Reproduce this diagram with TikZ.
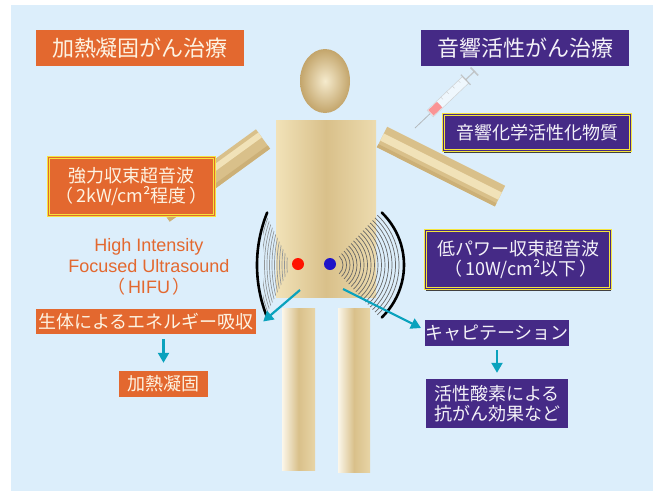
\documentclass[tikz,border=0pt]{standalone}
\usepackage{fontspec}
\setmainfont{Liberation Sans}
\newfontfamily\jp{Noto Sans CJK JP}
\usetikzlibrary{arrows.meta,shadows}

\definecolor{bgblue}{HTML}{DCEEFB}
\definecolor{hot}{HTML}{E3682F}
\definecolor{sono}{HTML}{452A86}
\definecolor{cream}{HTML}{FDF3E2}
\definecolor{arrowteal}{HTML}{0AA2BD}
\definecolor{gold}{HTML}{F5E53C}
\definecolor{tanL}{HTML}{F1E2B8}
\definecolor{tanM}{HTML}{D9C08A}
\definecolor{tanD}{HTML}{C3A56B}

\tikzset{
  tag/.style={inner sep=0pt, text=cream, align=center,
    font=\jp\fontsize{18}{20}\selectfont},
  hotbox/.style={tag, fill=hot},
  sonobox/.style={tag, fill=sono, text=white!94!sono},
  heading/.style={inner sep=0pt, font=\jp\fontsize{22}{26}\selectfont,
    minimum width=208pt, minimum height=36pt},
  framed/.style={draw=gold, double=#1, double distance=1.2pt, line width=1.1pt},
  shadowed/.style={drop shadow={shadow xshift=0.6pt, shadow yshift=-2.6pt,
    fill=black!75, opacity=1}},
  arr/.style={arrowteal, line width=2.2pt,
    -{Triangle[length=10pt,width=11pt]}},
  wavel/.style={gray!80!bgblue, line width=0.7pt},
  waver/.style={black!60, line width=0.7pt},
  rim/.style={black, line width=2.6pt, line cap=round},
}

\begin{document}
\begin{tikzpicture}[x=1pt,y=-1pt]
\useasboundingbox (0,0) rectangle (659,491);
\fill[white] (0,0) rectangle (659,491);
\fill[bgblue] (11,5) rectangle (653,491);

% ---------- figure ----------
% arms
\begin{scope}[shift={(263,139)}, rotate=216]
  \fill[tanM] (0,-12) rectangle (124,12);
  \fill[tanL] (0,2) rectangle (124,8);
  \fill[tanD!60!tanM] (0,-12) rectangle (124,-8);
\end{scope}
\begin{scope}[shift={(382,137)}, rotate=-26.6]
  \fill[tanM] (0,-11.5) rectangle (132,11.5);
  \fill[tanL] (0,-4) rectangle (132,4);
  \fill[tanD!60!tanM] (0,8) rectangle (132,11.5);
\end{scope}
% head
\shade[inner color=tanL!70!white, outer color=tanD] (325,81) ellipse [x radius=25, y radius=32];
% torso
\shade[left color=tanL, right color=tanL!80!tanM, middle color=tanM]
  (276,120) rectangle (376,297);
% legs
\shade[left color=white!70!tanL, right color=tanL!60!tanM, middle color=tanM]
  (282,308) rectangle (315,470);
\shade[left color=white!70!tanL, right color=tanL!60!tanM, middle color=tanM]
  (338,308) rectangle (370,472);

% syringe
\begin{scope}[shift={(415,128)}, rotate=43.6, opacity=0.75]
  \draw[gray!70, line width=0.8pt] (0,0) -- (21,0);
  \fill[white!75!bgblue, draw=gray!45, line width=0.5pt] (21,-4.5) rectangle (70,4.5);
  \fill[red!55!white] (22,-3.8) rectangle (34,3.8);
  \foreach \t in {40,48,56,64} \draw[gray!50, line width=0.4pt] (\t,-4.5) -- (\t,-1.5);
  \draw[gray!55, line width=1.2pt] (70,-7) -- (70,7);
  \draw[gray!55, line width=1.2pt] (70,0) -- (82,0);
  \draw[gray!55, line width=1.6pt] (82,-5.5) -- (82,5.5);
\end{scope}

% ultrasound transducers and wave fronts
\begin{scope}
  \clip (291,265) -- (263,209) -- (263,321) -- cycle;
  \foreach \r in {110,112.5,...,138} \draw[wavel] (397,265) circle[radius=\r];
\end{scope}
\draw[rim] (397,265) ++(158:140) arc[start angle=158, end angle=202, radius=140];

\begin{scope}
  \clip (331,265) -- (400,191) -- (420,265) -- (400,339) -- cycle;
  \foreach \r in {12,15.5,...,68} \draw[waver] (331,265) circle[radius=\r];
\end{scope}
\draw[rim] (331,265) ++(-46:73) arc[start angle=-46, end angle=46, radius=73];

\fill[red!85!orange] (298,264) circle[radius=6];
\fill[blue!55!sono] (330,264) circle[radius=6];
\coordinate (hotspot) at (300,290);
\coordinate (cavspot) at (343,289);

% ---------- labels ----------
\node[heading, fill=hot, text=cream] (thermal) at (140,48) {加熱凝固がん治療};
\node[heading, fill=sono, text=white!94!sono] (sonodyn) at (525,48) {音響活性がん治療};

\node[sonobox, framed=sono, shadowed, minimum width=186.6pt, minimum height=35.6pt]
  (agent) at (537,132.5) {音響化学活性化物質};

\node[hotbox, framed=hot, minimum width=165.6pt, minimum height=57.6pt]
  (hifu) at (131.5,186.5) {強力収束超音波\\（\,2kW/cm²程度\,）};

\node[sonobox, framed=sono, shadowed, minimum width=184.6pt, minimum height=57.6pt]
  (lowpower) at (518,259.5) {低パワー収束超音波\\\hspace*{6pt}（\,10W/cm²以下\,）};

\node[text=hot, align=center, inner sep=0pt, font=\fontsize{18}{21}\selectfont]
  (hifuname) at (149,267) {High Intensity\\Focused Ultrasound\\{\jp（}\,HIFU\,{\jp）}};

\node[hotbox, minimum width=220pt, minimum height=25pt] (absorb) at (146,321.5)
  {生体によるエネルギー吸収};
\node[hotbox, minimum width=89pt, minimum height=26pt] (coag) at (163.5,384)
  {加熱凝固};

\node[sonobox, minimum width=142pt, minimum height=26pt] (cav) at (497,333)
  {キャピテーション};
\node[sonobox, minimum width=142pt, minimum height=49pt] (ros) at (497,403.5)
  {活性酸素による\\抗がん効果など};

% ---------- arrows ----------
\draw[arr] (hotspot) -- ([xshift=7pt]absorb.east);
\draw[arr] (cavspot) -- ([xshift=-4pt,yshift=5pt]cav.west);
\draw[arr] (coag.north |- absorb.south) ++(0,5) -- ([yshift=8pt]coag.north);
\draw[arr] ([yshift=-4pt]cav.south) -- ([yshift=6pt]ros.north);
\end{tikzpicture}
\end{document}
